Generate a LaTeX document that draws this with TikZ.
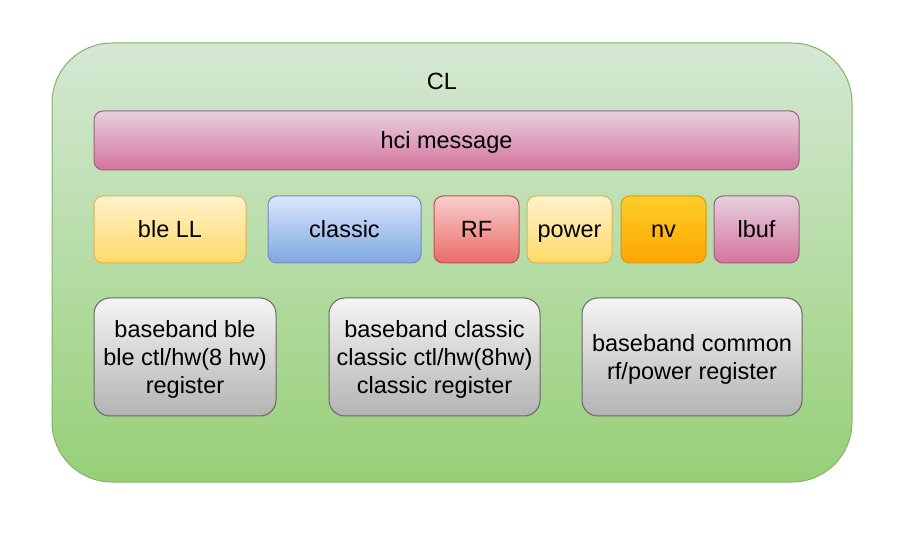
\documentclass[tikz,border=0pt]{standalone}
\usepackage{fontspec}
\setmainfont{Liberation Sans}
\definecolor{gTop}{HTML}{D5E8D4}
\definecolor{gBot}{HTML}{97D077}
\definecolor{gLine}{HTML}{82B366}
\definecolor{pTop}{HTML}{E6D0DE}
\definecolor{pBot}{HTML}{D5739D}
\definecolor{pLine}{HTML}{996185}
\definecolor{yTop}{HTML}{FFF2CC}
\definecolor{yBot}{HTML}{FFD966}
\definecolor{yLine}{HTML}{D6B656}
\definecolor{bTop}{HTML}{DAE8FC}
\definecolor{bBot}{HTML}{7EA6E0}
\definecolor{bLine}{HTML}{6C8EBF}
\definecolor{rTop}{HTML}{F8CECC}
\definecolor{rBot}{HTML}{EA6B66}
\definecolor{rLine}{HTML}{B85450}
\definecolor{oTop}{HTML}{FFCD28}
\definecolor{oBot}{HTML}{FFA500}
\definecolor{oLine}{HTML}{D79B00}
\definecolor{sTop}{HTML}{F5F5F5}
\definecolor{sBot}{HTML}{B3B3B3}
\definecolor{sLine}{HTML}{666666}
\begin{document}
\begin{tikzpicture}[x=1pt,y=-1pt,
  every node/.style={font=\fontsize{23.5}{28}\selectfont, text=black, align=center, inner sep=0pt},
  oneline/.style={text height=16.9pt, text depth=0pt},
  blk/.style={draw, line width=1pt, rounded corners=9pt, oneline},
  greenbox/.style={blk, draw=gLine, top color=gTop, bottom color=gBot, rounded corners=60pt},
  pinkbox/.style={blk, draw=pLine, top color=pTop, bottom color=pBot},
  yellowbox/.style={blk, draw=yLine, top color=yTop, bottom color=yBot},
  bluebox/.style={blk, draw=bLine, top color=bTop, bottom color=bBot},
  redbox/.style={blk, draw=rLine, top color=rTop, bottom color=rBot},
  orangebox/.style={blk, draw=oLine, top color=oTop, bottom color=oBot},
  graybox/.style={draw, line width=1pt, draw=sLine, top color=sTop, bottom color=sBot, rounded corners=16pt},
  multitext/.style={yshift=-2.5pt}
]
\useasboundingbox (0,0) rectangle (905,534);
\node[greenbox, minimum width=800pt, minimum height=439pt] (cl) at (452,262.5) {};
\node[oneline] (cltext) at (442,81) {CL};
\node[pinkbox, minimum width=705pt, minimum height=59pt] (hci) at (446.5,140.5) {hci message};
\node[yellowbox, minimum width=152pt, minimum height=67pt] (ble) at (170,229.5) {ble LL};
\node[bluebox, minimum width=153pt, minimum height=67pt] (classic) at (344.5,229.5) {classic};
\node[redbox, minimum width=85pt, minimum height=67pt] (rf) at (476.5,229.5) {RF};
\node[yellowbox, minimum width=85pt, minimum height=67pt] (power) at (569.5,229.5) {power};
\node[orangebox, minimum width=85pt, minimum height=67pt] (nv) at (663.5,229.5) {nv};
\node[pinkbox, minimum width=85pt, minimum height=67pt] (lbuf) at (756.5,229.5) {lbuf};
\node[graybox, minimum width=182pt, minimum height=118pt] (bble) at (185,357) {};
\node[multitext] (bbletxt) at (bble.center) {baseband ble\\ble ctl/hw(8 hw)\\register};
\node[graybox, minimum width=211pt, minimum height=118pt] (bcl) at (434.5,357) {};
\node[multitext] (bcltxt) at (bcl.center) {baseband classic\\classic ctl/hw(8hw)\\classic register};
\node[graybox, minimum width=220pt, minimum height=118pt] (bcom) at (692,357) {};
\node[multitext] (bcomtxt) at (bcom.center) {baseband common\\rf/power register};
\end{tikzpicture}
\end{document}
